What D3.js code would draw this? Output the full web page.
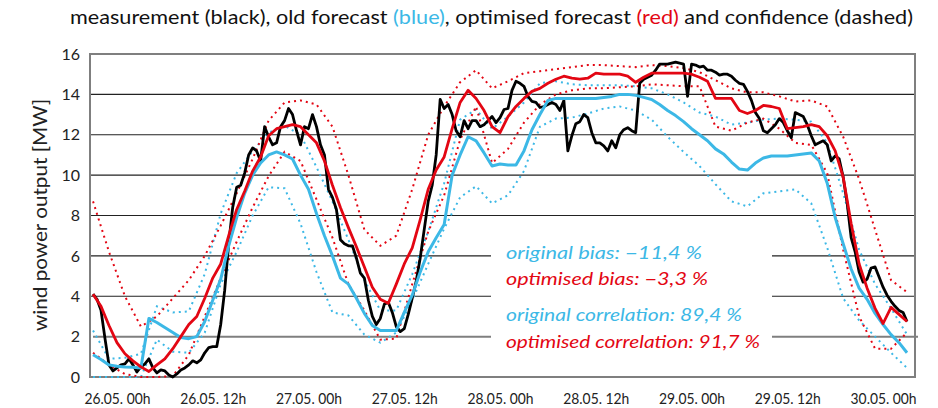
<!DOCTYPE html>
<html>
<head>
<meta charset="utf-8">
<script src="https://cdn.jsdelivr.net/npm/d3@7"></script>
<style>
body { margin:0; background:#fff; }
text { font-family: Lato, "Noto Sans", sans-serif; }
</style>
</head>
<body>
<svg id="chart" width="938" height="408"></svg>
<script>
// hours counted from 26.05. 00h
var firstHour = -3;
var measStep = 0.5, fcStep = 1, bandStep = 2;

// measurement (black), every 30 min
var measured = [
  4.1, 3.85, 3.3, 1.9, 0.6, 0.3, 0.45, 0.6, 0.65, 0.9,
  0.6, 0.25, 0.5, 0.65, 0.9, 0.45, 0.2, 0.35, 0.3, 0.1,
  0.0, 0.15, 0.35, 0.45, 0.6, 0.8, 0.7, 0.85, 1.2, 1.45,
  1.5, 1.5, 2.6, 4.3, 6.6, 8.4, 9.4, 9.5, 10.1, 11.0,
  11.35, 11.2, 10.7, 12.4, 11.9, 11.5, 11.6, 12.4, 12.7, 13.3,
  13.0, 12.2, 11.5, 12.4, 12.3, 13.0, 12.4, 11.5, 11.0, 9.3,
  8.9, 8.3, 6.8, 6.6, 6.5, 6.5, 5.9, 5.15, 4.9, 3.8,
  3.0, 2.6, 2.9, 3.6, 3.7, 3.2, 2.5, 2.25, 2.4, 3.1,
  3.9, 4.75, 5.9, 7.3, 8.7, 9.5, 11.0, 13.75, 13.3, 13.5,
  13.0, 12.2, 11.9, 12.7, 12.3, 12.7, 12.7, 12.4, 12.5, 12.7,
  12.9, 12.6, 12.85, 13.25, 13.3, 14.2, 14.65, 14.55, 14.4, 13.9,
  13.65, 13.6, 13.35, 13.4, 13.5, 13.6, 13.5, 13.2, 13.7, 11.2,
  11.95, 12.55, 12.65, 13.0, 12.85, 12.1, 11.6, 11.6, 11.45, 11.2,
  11.7, 11.35, 12.0, 12.25, 12.35, 12.2, 12.1, 14.55, 14.75, 14.85,
  14.95, 15.2, 15.5, 15.5, 15.5, 15.55, 15.6, 15.55, 15.5, 13.9,
  15.5, 15.45, 15.35, 15.4, 15.2, 15.2, 15.1, 14.95, 15.0, 15.0,
  14.9, 14.7, 14.55, 14.5, 14.15, 13.7, 13.1, 12.8, 12.2, 12.1,
  12.3, 12.5, 12.8, 12.6, 12.2, 11.85, 13.1, 13.0, 12.9, 12.5,
  11.95, 11.5, 11.6, 11.7, 11.5, 10.7, 10.95, 10.8, 9.9, 8.6,
  6.9, 6.2, 5.2, 4.7, 4.85, 5.4, 5.45, 4.95, 4.45, 4.05,
  3.75, 3.5, 3.3, 3.2, 2.75
];

// old forecast (blue), hourly
var oldForecast = [
  1.1, 0.87, 0.6, 0.53, 0.5, 0.48, 0.45, 2.9, 2.7, 2.45,
  2.2, 1.95, 1.9, 2.0, 2.75, 3.8, 4.85, 6.5, 7.9, 9.1,
  10.0, 10.6, 11.0, 11.15, 11.0, 10.8, 10.0, 9.3, 8.1, 7.0,
  6.0, 4.9, 4.6, 3.9, 3.15, 2.55, 2.3, 2.3, 2.3, 3.2,
  4.05, 5.2, 6.2, 6.9, 7.55, 10.0, 11.0, 11.9, 11.7, 11.1,
  10.45, 10.55, 10.5, 10.5, 11.2, 12.25, 13.0, 13.7, 13.8, 13.8,
  13.8, 13.8, 13.8, 13.8, 13.85, 13.9, 14.0, 14.0, 13.95, 13.85,
  13.75, 13.5, 13.2, 12.95, 12.65, 12.3, 12.0, 11.7, 11.3, 11.05,
  10.65, 10.3, 10.25, 10.6, 10.85, 10.95, 10.95, 10.95, 11.0, 11.05,
  11.1, 10.7, 9.6, 7.9, 6.6, 5.35, 4.4, 3.85, 3.15, 2.6,
  2.1, 1.7, 1.2
];

// optimised forecast (red), hourly
var newForecast = [
  4.1, 3.5, 2.55, 1.7, 1.15, 0.8, 0.5, 0.27, 0.6, 0.9,
  1.4, 2.0, 2.6, 3.0, 3.9, 4.9, 5.6, 7.0, 8.3, 9.2,
  10.2, 10.9, 11.95, 12.3, 12.4, 12.5, 12.4, 12.0, 11.6, 10.7,
  9.5, 8.4, 7.4, 6.45, 5.45, 4.45, 3.85, 3.65, 4.6, 5.6,
  6.4, 7.8, 9.3, 10.25, 10.9, 12.3, 13.6, 14.2, 13.8, 13.2,
  12.4, 12.1, 12.9, 13.4, 13.8, 14.15, 14.3, 14.55, 14.75, 14.9,
  14.8, 14.75, 14.8, 15.05, 15.0, 15.0, 15.0, 14.9, 14.6, 14.85,
  15.05, 15.05, 15.05, 15.05, 15.05, 15.0, 14.85, 14.65, 13.8, 13.8,
  13.8, 13.2, 13.05, 13.2, 13.45, 13.4, 13.3, 12.3, 12.35, 12.4,
  12.5, 12.4, 11.95, 11.2, 9.9, 7.6, 5.6, 4.4, 3.4, 2.65,
  3.45, 3.1, 2.75
];

// confidence bands (dashed), every 2 h
var newUpper = [
  8.7, 6.2, 4.0, 2.5, 3.0, 3.9, 4.8, 6.0, 7.5, 9.1,
  10.8, 12.7, 13.6, 13.7, 13.5, 12.4, 10.0, 7.3, 6.5, 7.0,
  9.3, 12.0, 13.4, 14.6, 15.2, 14.3, 14.65, 15.05, 15.15, 15.25,
  15.35, 15.45, 15.45, 15.4, 15.35, 15.45, 15.4, 15.3, 15.1, 14.7,
  14.3, 14.1, 14.1, 13.9, 13.65, 13.7, 13.4, 11.9, 9.8, 7.3,
  4.8, 4.2
];
var newLower = [
  1.2, 0.6, 0.15, 0.0, 0.0, 0.05, 1.1, 3.0, 4.9, 6.7,
  8.4, 9.95, 11.15, 10.7, 8.8, 6.9, 4.6, 3.3, 1.85, 1.9,
  4.6, 7.2, 9.0, 11.75, 13.4, 10.6, 11.3, 12.6, 13.5, 14.0,
  14.2, 14.3, 14.3, 14.35, 14.4, 14.5, 14.45, 14.4, 14.4, 12.4,
  12.2, 12.6, 12.8, 12.3, 11.6, 11.5, 10.1, 6.3, 3.0, 1.4,
  1.4, 2.2
];
var oldUpper = [
  2.3, 0.9, 0.95, 1.15, 3.5, 3.2, 3.25, 5.1, 8.1, 10.1,
  11.2, 12.1, 12.45, 12.0, 10.4, 8.7, 6.8, 4.8, 3.3, 3.3,
  5.1, 7.2, 9.6, 12.75, 13.25, 12.3, 12.9, 13.6, 14.55, 14.65,
  14.5, 14.45, 14.45, 14.45, 14.4, 14.3, 14.0, 13.6, 13.1, 12.9,
  12.5, 12.6, 12.75, 12.8, 12.75, 12.65, 11.6, 9.1, 6.3, 4.6,
  3.4, 2.1
];
var oldLower = [
  0, 0, 0, 0, 1.85, 1.25, 1.2, 2.2, 4.6, 6.2,
  8.0, 9.4, 9.35, 7.6, 5.2, 3.2, 3.05, 2.1, 1.7, 2.2,
  3.8, 5.6, 7.35, 8.9, 9.45, 8.6, 9.0, 10.2, 12.4, 12.8,
  12.85, 13.05, 13.3, 13.4, 13.2, 12.75, 11.9, 11.15, 10.45, 9.55,
  8.7, 8.45, 9.1, 9.2, 9.3, 8.6, 6.4, 3.9, 2.8, 2.0,
  1.2, 0.45
];

var yTicks = [0, 2, 4, 6, 8, 10, 12, 14, 16];
var noteLines = ["original bias: \u221211,4 %", "optimised bias: \u22123,3 %",
                 "original correlation: 89,4 %", "optimised correlation: 91,7 %"];

var blue = "#3cb8e6", red = "#e30613";

var svg = d3.select("#chart");
var t0 = Date.UTC(2014, 4, 26, 0);
function toTime(h) { return new Date(t0 + h * 3600000); }

var x = d3.scaleUtc().domain([toTime(-3.38), toTime(100)]).range([90, 915]);
var y = d3.scaleLinear().domain([0, 16]).range([377, 54]);

function series(vals, step) {
  return vals.map(function(v, i) { return { t: toTime(firstHour + i * step), v: v }; });
}
var line = d3.line().x(function(d) { return x(d.t); }).y(function(d) { return y(d.v); });

// title
var title = svg.append("text").attr("x", 70).attr("y", 24)
  .attr("font-size", 19).attr("fill", "#111")
  .attr("textLength", 843).attr("lengthAdjust", "spacingAndGlyphs");
title.append("tspan").text("measurement (black), old forecast ");
title.append("tspan").attr("fill", blue).text("(blue)");
title.append("tspan").text(", optimised forecast ");
title.append("tspan").attr("fill", red).text("(red)");
title.append("tspan").text(" and confidence (dashed)");

// gridlines
svg.selectAll(".grid")
  .data(yTicks.filter(function(d) { return d > 2 && d < 16; }))
  .enter().append("line")
  .attr("class", "grid")
  .attr("x1", 90).attr("x2", 915)
  .attr("y1", function(d) { return y(d); }).attr("y2", function(d) { return y(d); })
  .attr("stroke", "#222").attr("stroke-width", 1.2);

svg.append("line").attr("x1", 93).attr("x2", 918)
  .attr("y1", y(2)).attr("y2", y(2))
  .attr("stroke", "#7f7f7f").attr("stroke-width", 2);

// frame
svg.append("rect").attr("x", 90).attr("y", y(16)).attr("width", 825).attr("height", y(0) - y(16))
  .attr("fill", "none").attr("stroke", "#7f7f7f").attr("stroke-width", 2);

// white box behind the notes
svg.append("rect").attr("x", 491).attr("y", 230).attr("width", 281).attr("height", 130)
  .attr("fill", "#fff");

// dashed confidence
var bands = [
  { vals: oldUpper, color: blue }, { vals: oldLower, color: blue },
  { vals: newUpper, color: red }, { vals: newLower, color: red }
];
bands.forEach(function(b) {
  svg.append("path").datum(series(b.vals, bandStep))
    .attr("d", line).attr("fill", "none")
    .attr("stroke", b.color).attr("stroke-width", 2)
    .attr("stroke-dasharray", "2,4");
});

svg.append("path").datum(series(measured, measStep))
  .attr("d", line).attr("fill", "none").attr("stroke", "#000").attr("stroke-width", 2.8)
  .attr("stroke-linejoin", "round");
svg.append("path").datum(series(oldForecast, fcStep))
  .attr("d", line).attr("fill", "none").attr("stroke", blue).attr("stroke-width", 3)
  .attr("stroke-linejoin", "round");
svg.append("path").datum(series(newForecast, fcStep))
  .attr("d", line).attr("fill", "none").attr("stroke", red).attr("stroke-width", 2.8)
  .attr("stroke-linejoin", "round");

// axes
var xAxis = d3.axisBottom(x).ticks(d3.utcHour.every(12))
  .tickFormat(d3.utcFormat("%d.%m. %Hh")).tickSize(0).tickPadding(16);
var gx = svg.append("g").attr("transform", "translate(0," + y(0) + ")").call(xAxis);
gx.select(".domain").remove();
gx.selectAll("text").attr("font-family", "Lato").attr("font-size", 15).attr("fill", "#222")
  .attr("textLength", 66).attr("lengthAdjust", "spacingAndGlyphs");

var yAxis = d3.axisLeft(y).tickValues(yTicks).tickSize(0).tickPadding(10);
var gy = svg.append("g").attr("transform", "translate(90,0)").call(yAxis);
gy.select(".domain").remove();
gy.selectAll("text").attr("font-family", "Lato").attr("font-size", 16).attr("fill", "#222");

svg.append("text").attr("transform", "translate(47,215) rotate(-90)")
  .attr("text-anchor", "middle").attr("font-size", 20).attr("fill", "#222")
  .attr("textLength", 232).attr("lengthAdjust", "spacingAndGlyphs")
  .text("wind power output [MW]");

// notes
var noteY = [258.5, 285.3, 321.3, 348];
var noteW = [196, 202, 236, 254];
svg.selectAll(".note").data(noteLines).enter().append("text")
  .attr("class", "note")
  .attr("x", 506).attr("y", function(d, i) { return noteY[i]; })
  .attr("font-size", 18).attr("font-style", "italic")
  .attr("fill", function(d, i) { return i % 2 ? red : blue; })
  .attr("textLength", function(d, i) { return noteW[i]; })
  .attr("lengthAdjust", "spacingAndGlyphs")
  .text(function(d) { return d; });
</script>
</body>
</html>
